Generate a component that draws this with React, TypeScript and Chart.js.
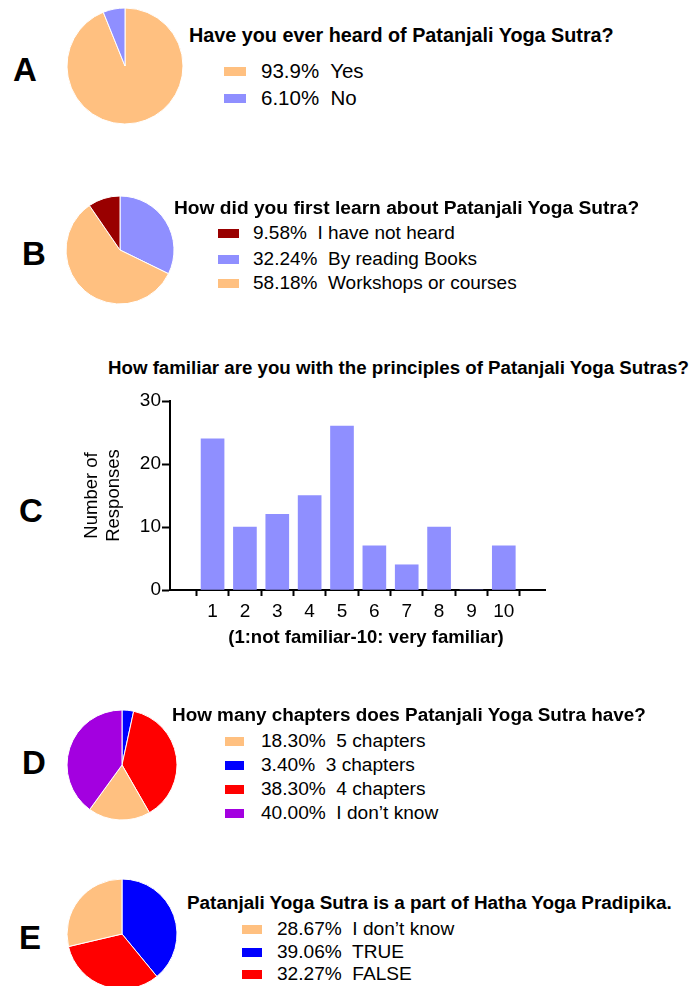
import React, { useEffect, useRef } from "react";
import { Chart, registerables } from "chart.js";

Chart.register(...registerables);

// ---------- data ----------
const heardTitle = "Have you ever heard of Patanjali Yoga Sutra?";
const heardLabels = ["Yes", "No"];
const heardPercents = ["93.9%", "6.10%"];
const heardValues = [93.9, 6.1];
const heardDrawOrder = [0, 1];

const learnTitle = "How did you first learn about Patanjali Yoga Sutra?";
const learnLabels = ["I have not heard", "By reading Books", "Workshops or courses"];
const learnPercents = ["9.58%", "32.24%", "58.18%"];
const learnValues = [9.58, 32.24, 58.18];
const learnDrawOrder = [1, 2, 0];

const familiarTitle = "How familiar are you with the principles of Patanjali Yoga Sutras?";
const familiarCategories = ["1", "2", "3", "4", "5", "6", "7", "8", "9", "10"];
const familiarCounts = [24, 10, 12, 15, 26, 7, 4, 10, 0, 7];
const familiarYTicks = [0, 10, 20, 30];
const familiarYTitle = ["Number of", "Responses"];
const familiarXTitle = "(1:not familiar-10: very familiar)";

const chaptersTitle = "How many chapters does Patanjali Yoga Sutra have?";
const chaptersLabels = ["5 chapters", "3 chapters", "4 chapters", "I don\u2019t know"];
const chaptersPercents = ["18.30%", "3.40%", "38.30%", "40.00%"];
const chaptersValues = [18.3, 3.4, 38.3, 40.0];
const chaptersDrawOrder = [1, 2, 0, 3];

const hathaTitle = "Patanjali Yoga Sutra is a part of Hatha Yoga Pradipika.";
const hathaLabels = ["I don\u2019t know", "TRUE", "FALSE"];
const hathaPercents = ["28.67%", "39.06%", "32.27%"];
const hathaValues = [28.67, 39.06, 32.27];
const hathaDrawOrder = [1, 2, 0];

// ---------- styles ----------
const FONT = "'Liberation Sans', Arial, Helvetica, sans-serif";
const PEACH = "#FFC080";
const LAVENDER = "#8F8FFF";
const DARKRED = "#990000";
const BLUE = "#0000FF";
const RED = "#FF0000";
const PURPLE = "#A300E0";

const heardColors = [PEACH, LAVENDER];
const learnColors = [DARKRED, LAVENDER, PEACH];
const chaptersColors = [PEACH, BLUE, RED, PURPLE];
const hathaColors = [PEACH, BLUE, RED];

type PieProps = { values: number[]; colors: string[]; order: number[]; cx: number; cy: number; r: number };

function PieChart({ values, colors, order, cx, cy, r }: PieProps) {
  const ref = useRef<HTMLCanvasElement>(null);
  const size = Math.round(2 * r + 4);
  useEffect(() => {
    if (!ref.current) return;
    const chart = new Chart(ref.current, {
      type: "pie",
      data: {
        labels: order.map((i) => String(i)),
        datasets: [
          {
            data: order.map((i) => values[i]),
            backgroundColor: order.map((i) => colors[i]),
            borderColor: "#ffffff",
            borderWidth: 1,
            radius: r,
          } as any,
        ],
      },
      options: {
        responsive: false,
        animation: false,
        layout: { padding: 0 },
        plugins: { legend: { display: false }, tooltip: { enabled: false } },
      },
    });
    return () => chart.destroy();
  }, []);
  return (
    <canvas
      ref={ref}
      width={size}
      height={size}
      style={{
        position: "absolute",
        left: Math.round(cx - size / 2),
        top: Math.round(cy - size / 2),
        width: size,
        height: size,
      }}
    />
  );
}

function Text({ x, cy, text, size = 19, bold = false, h = 24, align = "left" }: any) {
  return (
    <div
      style={{
        position: "absolute",
        left: align === "center" ? x - 300 : x,
        width: align === "center" ? 600 : undefined,
        textAlign: align,
        top: cy - h / 2,
        height: h,
        lineHeight: h + "px",
        fontFamily: FONT,
        fontSize: size,
        fontWeight: bold ? "bold" : "normal",
        whiteSpace: "pre",
        color: "#000",
      }}
    >
      {text}
    </div>
  );
}

type LegendProps = {
  labels: string[];
  percents: string[];
  colors: string[];
  rows: number[];
  swatchX: number;
  swatchW: number;
  textX: number;
  size?: number;
};

function Legend({ labels, percents, colors, rows, swatchX, swatchW, textX, size = 19 }: LegendProps) {
  return (
    <>
      {labels.map((lab, i) => (
        <React.Fragment key={i}>
          <div
            style={{
              position: "absolute",
              left: swatchX,
              top: rows[i] - 4.5,
              width: swatchW,
              height: 9,
              background: colors[i],
            }}
          />
          <Text x={textX} cy={rows[i]} text={percents[i] + "  " + lab} size={size} />
        </React.Fragment>
      ))}
    </>
  );
}

function BarChart() {
  const ref = useRef<HTMLCanvasElement>(null);
  useEffect(() => {
    if (!ref.current) return;
    const chart = new Chart(ref.current, {
      type: "bar",
      data: {
        datasets: [
          {
            data: familiarCounts.map((v, i) => ({ x: i + 1, y: v })),
            backgroundColor: LAVENDER,
            borderWidth: 0,
            barThickness: 23,
          } as any,
        ],
      },
      options: {
        responsive: false,
        animation: false,
        layout: { padding: { top: 21, right: 147, left: 0, bottom: 0 } },
        plugins: { legend: { display: false }, tooltip: { enabled: false } },
        scales: {
          x: {
            type: "linear",
            min: 0.264,
            max: 10.694,
            afterBuildTicks: (scale: any) => {
              scale.ticks = familiarCategories.map((_, i) => ({ value: i + 1 }));
            },
            afterFit: (scale: any) => {
              scale.height = 80;
            },
            grid: {
              display: true,
              drawOnChartArea: false,
              drawTicks: true,
              tickLength: 6,
              tickWidth: 2,
              tickColor: "#000",
            },
            border: { display: true, color: "#000", width: 2 },
            ticks: {
              autoSkip: false,
              maxRotation: 0,
              padding: 4,
              color: "#000",
              font: { family: FONT, size: 19 },
              callback: (v: any) => familiarCategories[Math.round(Number(v)) - 1] ?? "",
            },
          },
          y: {
            type: "linear",
            min: 0,
            max: 30,
            afterBuildTicks: (scale: any) => {
              scale.ticks = familiarYTicks.map((v) => ({ value: v }));
            },
            afterFit: (scale: any) => {
              scale.width = 170;
            },
            grid: {
              display: true,
              drawOnChartArea: false,
              drawTicks: true,
              tickLength: 8,
              tickWidth: 2,
              tickColor: "#000",
            },
            border: { display: true, color: "#000", width: 2 },
            ticks: {
              padding: 1,
              color: "#000",
              font: { family: FONT, size: 19 },
            },
            title: {
              display: true,
              text: familiarYTitle,
              color: "#000",
              font: { family: FONT, size: 18.5 },
              padding: { top: 80.5, bottom: 0 },
            },
          },
        },
      },
    });
    return () => chart.destroy();
  }, []);
  return (
    <canvas
      ref={ref}
      width={692}
      height={290}
      style={{ position: "absolute", left: 0, top: 380, width: 692, height: 290 }}
    />
  );
}

export default function App() {
  return (
    <div
      style={{
        position: "absolute",
        left: 0,
        top: 0,
        width: 692,
        height: 986,
        overflow: "hidden",
        background: "#fff",
      }}
    >
      {/* A */}
      <Text x={13} cy={70} text="A" size={33} bold h={38} />
      <PieChart values={heardValues} colors={heardColors} order={heardDrawOrder} cx={125} cy={66} r={58} />
      <Text x={189} cy={35} text={heardTitle} bold size={19.8} />
      <Legend labels={heardLabels} percents={heardPercents} colors={heardColors} rows={[71, 98]} swatchX={224} swatchW={22} textX={261} size={20.5} />

      {/* B */}
      <Text x={22} cy={254} text="B" size={33} bold h={38} />
      <PieChart values={learnValues} colors={learnColors} order={learnDrawOrder} cx={120} cy={250} r={54} />
      <Text x={174} cy={208} text={learnTitle} bold size={19.2} />
      <Legend labels={learnLabels} percents={learnPercents} colors={learnColors} rows={[233, 259, 283]} swatchX={218} swatchW={21} textX={253} />

      {/* C */}
      <Text x={19} cy={511} text="C" size={33} bold h={38} />
      <Text x={108} cy={368} text={familiarTitle} bold size={18.7} />
      <BarChart />
      <Text x={366} cy={637} text={familiarXTitle} bold size={18.5} align="center" />

      {/* D */}
      <Text x={22} cy={763} text="D" size={33} bold h={38} />
      <PieChart values={chaptersValues} colors={chaptersColors} order={chaptersDrawOrder} cx={122} cy={765} r={55} />
      <Text x={172} cy={715} text={chaptersTitle} bold size={18.9} />
      <Legend labels={chaptersLabels} percents={chaptersPercents} colors={chaptersColors} rows={[741, 765, 789, 813]} swatchX={225} swatchW={19} textX={261} size={19.1} />

      {/* E */}
      <Text x={19} cy={938} text="E" size={33} bold h={38} />
      <PieChart values={hathaValues} colors={hathaColors} order={hathaDrawOrder} cx={122} cy={934} r={55} />
      <Text x={187} cy={903} text={hathaTitle} bold size={18.9} />
      <Legend labels={hathaLabels} percents={hathaPercents} colors={hathaColors} rows={[929, 952, 974]} swatchX={242} swatchW={20} textX={277} size={19.1} />
    </div>
  );
}
